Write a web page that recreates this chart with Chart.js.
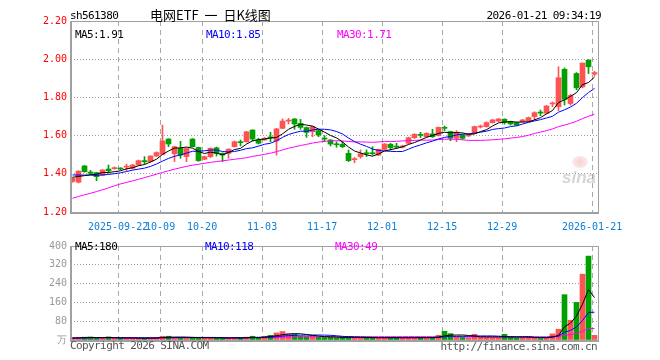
<!DOCTYPE html>
<html>
<head>
<meta charset="utf-8">
<script src="https://cdn.jsdelivr.net/npm/chart.js@4.4.1/dist/chart.umd.min.js"></script>
<style>
  body { margin: 0; background: #fff; }
  #wrap { position: relative; width: 660px; height: 360px; overflow: hidden; background: #fff;
          font-family: "DejaVu Sans Mono", monospace; }
  canvas { position: absolute; left: 0; }
  .t { position: absolute; white-space: nowrap; font-size: 11px; letter-spacing: -0.6px; line-height: 13px; color: #000; }
</style>
</head>
<body>
<div id="wrap">
  <canvas id="kChart" width="660" height="236" style="top:0"></canvas>
  <canvas id="volChart" width="660" height="124" style="top:236px"></canvas>

  <div class="t" style="left:70px;top:9px">sh561380</div>
  <div class="t" style="left:150px;top:7px;font-family:'Noto Sans CJK SC';font-size:13px;letter-spacing:0;word-spacing:3px;line-height:16px">电网ETF 一 日K线图</div>
  <div class="t" style="right:59px;top:9px">2026-01-21 09:34:19</div>

  <div class="t" style="left:75px;top:28px;color:#000">MA5:1.91</div>
  <div class="t" style="left:206px;top:28px;color:#0000ff">MA10:1.85</div>
  <div class="t" style="left:337px;top:28px;color:#ff00ff">MA30:1.71</div>

  <div class="t" style="left:75px;top:240px;color:#000">MA5:180</div>
  <div class="t" style="left:205px;top:240px;color:#0000ff">MA10:118</div>
  <div class="t" style="left:335px;top:240px;color:#ff00ff">MA30:49</div>

  <div class="t" style="left:70px;top:339px;color:#555">Copyright 2026 SINA.COM</div>
  <div class="t" style="right:63px;top:340px;color:#555">http://finance.sina.com.cn</div>

  <div style="position:absolute;left:572px;top:156px;width:16px;height:12px;border-radius:50%;background:radial-gradient(circle,rgba(235,120,120,0.35),rgba(235,160,160,0.1))"></div>
  <div style="position:absolute;left:562px;top:168px;font:italic bold 17px 'Liberation Sans';color:rgba(150,150,150,0.4)">sina</div>
</div>

<script>
// trading days shown
const dates = ['2025-09-10','2025-09-11','2025-09-12','2025-09-15','2025-09-16','2025-09-17','2025-09-18','2025-09-19',
  '2025-09-22','2025-09-23','2025-09-24','2025-09-25','2025-09-26','2025-09-29','2025-09-30',
  '2025-10-09','2025-10-10','2025-10-13','2025-10-14','2025-10-15','2025-10-16','2025-10-17',
  '2025-10-20','2025-10-21','2025-10-22','2025-10-23','2025-10-24','2025-10-27','2025-10-28','2025-10-29','2025-10-30','2025-10-31',
  '2025-11-03','2025-11-04','2025-11-05','2025-11-06','2025-11-07','2025-11-10','2025-11-11','2025-11-12','2025-11-13','2025-11-14',
  '2025-11-17','2025-11-18','2025-11-19','2025-11-20','2025-11-21','2025-11-24','2025-11-25','2025-11-26','2025-11-27','2025-11-28',
  '2025-12-01','2025-12-02','2025-12-03','2025-12-04','2025-12-05','2025-12-08','2025-12-09','2025-12-10','2025-12-11','2025-12-12',
  '2025-12-15','2025-12-16','2025-12-17','2025-12-18','2025-12-19','2025-12-22','2025-12-23','2025-12-24','2025-12-25','2025-12-26',
  '2025-12-29','2025-12-30','2025-12-31','2026-01-05','2026-01-06','2026-01-07','2026-01-08','2026-01-09',
  '2026-01-12','2026-01-13','2026-01-14','2026-01-15','2026-01-16','2026-01-19','2026-01-20','2026-01-21'];

const tickDates  = ['2025-09-22','2025-10-09','2025-10-20','2025-11-03','2025-11-17','2025-12-01','2025-12-15','2025-12-29','2026-01-21'];
const tickLabels = ['2025-09-22','10-09','10-20','11-03','11-17','12-01','12-15','12-29','2026-01-21'];

const opens = [1.360,1.356,1.441,1.409,1.406,1.392,1.425,1.427,1.428,1.435,1.429,1.446,1.469,1.464,1.493,
  1.502,1.582,1.505,1.533,1.490,1.582,1.538,1.476,1.490,1.536,1.507,1.507,1.542,1.567,1.568,1.629,1.577,
  1.577,1.592,1.572,1.638,1.676,1.687,1.664,1.642,1.620,1.626,1.586,1.577,1.556,1.554,1.507,1.474,1.490,1.509,1.509,1.498,
  1.528,1.554,1.544,1.539,1.560,1.589,1.605,1.594,1.609,1.600,1.642,1.621,1.586,1.603,1.598,1.615,1.645,1.647,1.668,1.676,
  1.686,1.673,1.668,1.673,1.676,1.699,1.722,1.717,1.766,1.751,1.947,1.768,1.925,1.855,1.995,1.922];
const highs = [1.380,1.416,1.444,1.418,1.408,1.422,1.446,1.436,1.432,1.451,1.450,1.472,1.490,1.495,1.515,
  1.655,1.584,1.545,1.570,1.536,1.585,1.540,1.492,1.536,1.540,1.510,1.531,1.572,1.577,1.622,1.631,1.586,
  1.590,1.617,1.638,1.687,1.690,1.690,1.685,1.645,1.650,1.628,1.600,1.580,1.568,1.568,1.525,1.486,1.525,1.525,1.542,1.530,
  1.558,1.560,1.560,1.550,1.592,1.610,1.617,1.615,1.633,1.645,1.650,1.623,1.626,1.606,1.610,1.650,1.655,1.672,1.685,1.690,
  1.688,1.676,1.670,1.685,1.697,1.725,1.734,1.758,1.776,1.960,1.954,1.816,1.930,1.980,1.998,1.937];
const lows = [1.355,1.352,1.408,1.397,1.364,1.390,1.403,1.424,1.420,1.416,1.425,1.444,1.451,1.460,1.490,
  1.500,1.542,1.464,1.481,1.464,1.540,1.465,1.474,1.485,1.493,1.464,1.481,1.540,1.546,1.565,1.572,1.556,
  1.575,1.568,1.498,1.635,1.661,1.633,1.633,1.591,1.594,1.594,1.568,1.546,1.539,1.537,1.464,1.458,1.481,1.490,1.498,1.495,
  1.525,1.525,1.533,1.535,1.556,1.585,1.589,1.590,1.590,1.598,1.626,1.573,1.568,1.580,1.595,1.612,1.640,1.644,1.665,1.673,
  1.660,1.655,1.652,1.670,1.673,1.682,1.704,1.714,1.751,1.731,1.760,1.759,1.840,1.850,1.925,1.912];
const closes = [1.376,1.414,1.411,1.403,1.385,1.420,1.416,1.431,1.425,1.439,1.446,1.469,1.463,1.493,1.511,
  1.572,1.556,1.542,1.498,1.533,1.542,1.469,1.490,1.533,1.507,1.498,1.529,1.568,1.563,1.620,1.582,1.560,
  1.586,1.588,1.635,1.676,1.680,1.661,1.643,1.617,1.647,1.603,1.582,1.556,1.552,1.542,1.469,1.478,1.504,1.505,1.505,1.528,
  1.556,1.537,1.540,1.546,1.589,1.607,1.601,1.612,1.594,1.643,1.638,1.586,1.618,1.586,1.605,1.647,1.649,1.668,1.682,1.687,
  1.669,1.661,1.655,1.682,1.694,1.720,1.718,1.755,1.770,1.903,1.790,1.810,1.850,1.980,1.960,1.930];
// closes of the 9 sessions before the window, for MA5 / MA10
const prevCloses = [1.420,1.412,1.405,1.400,1.393,1.395,1.388,1.380,1.371];

// MA30
const ma30 = [1.272,1.281,1.290,1.298,1.307,1.316,1.326,1.337,1.347,1.355,1.363,1.371,1.380,1.389,1.398,
  1.407,1.416,1.424,1.432,1.439,1.445,1.450,1.455,1.460,1.464,1.468,1.472,1.476,1.480,
  1.484,1.491,1.496,1.502,1.508,1.516,1.525,1.534,1.541,1.548,1.554,1.561,1.566,1.570,1.572,1.573,1.572,1.569,1.567,1.567,
  1.566,1.565,1.567,1.569,1.569,1.570,1.572,1.574,1.575,1.577,1.576,1.577,1.579,1.581,1.581,1.581,1.578,1.575,1.575,1.575,
  1.576,1.578,1.580,1.583,1.587,1.590,1.595,1.602,1.611,1.618,1.626,1.635,1.647,1.655,1.664,1.675,1.689,1.701,1.712];

// volume, 万手
const volumes = [9,10,12,13,9,8,13,7,8,7,8,9,8,9,10,
  16,16,11,10,9,10,11,8,9,8,8,9,10,9,12,16,10,
  16,20,30,36,26,24,16,15,18,12,11,12,10,11,14,10,10,9,9,10,
  10,11,9,9,11,11,10,10,10,20,37,27,12,11,10,24,11,11,10,10,
  24,12,9,10,12,11,6,10,26,46,193,84,160,280,357,20];
const prevVolumes = [8,9,10,9,8,7,9,10,8,9,8,7,8,9,10,9,8,8,9,7,8,9,8,10,9,8,7,8,9];

const UP = '#ff5252';
const DOWN = '#00a000';
const tickIdx = tickDates.map(d => dates.indexOf(d));

function movingAvg(vals, prev, n) {
  const all = prev.concat(vals);
  return vals.map((v, i) => {
    const end = prev.length + i + 1;
    const win = all.slice(Math.max(0, end - n), end);
    return win.reduce((a, b) => a + b, 0) / win.length;
  });
}

const candleColors = closes.map((c, i) => (c >= opens[i] ? UP : DOWN));
const ma5 = movingAvg(closes, prevCloses, 5);
const ma10 = movingAvg(closes, prevCloses, 10);
const vma5 = movingAvg(volumes, prevVolumes, 5);
const vma10 = movingAvg(volumes, prevVolumes, 10);
const vma30 = movingAvg(volumes, prevVolumes, 30);

const monoFont = { family: 'DejaVu Sans Mono', size: 10 };

// grey box round each panel
const framePlugin = {
  id: 'frame',
  afterDraw(chart) {
    const { ctx, chartArea: a } = chart;
    ctx.save();
    ctx.strokeStyle = '#a0a0a0';
    ctx.lineWidth = 1;
    ctx.strokeRect(a.left + 0.5, a.top + 0.5, a.right - a.left - 1, a.bottom - a.top);
    ctx.lineWidth = 2;
    ctx.beginPath();
    ctx.moveTo(a.left, a.top);
    ctx.lineTo(a.left, a.bottom + 1);
    ctx.lineTo(a.right, a.bottom + 1);
    ctx.stroke();
    ctx.restore();
  }
};

function xScale(showLabels) {
  return {
    type: 'linear',
    min: -0.25,
    max: 87.75,
    offset: false,
    afterFit: s => { s.height = showLabels ? 24 : 0; },
    afterBuildTicks: s => { s.ticks = tickIdx.map(i => ({ value: i - 0.4 })); },
    ticks: {
      display: showLabels,
      autoSkip: false,
      maxRotation: 0,
      padding: 9,
      color: '#0a7fd8',
      font: monoFont,
      callback: (v, idx) => tickLabels[idx]
    },
    grid: { color: '#a8a8a8', drawTicks: false, offset: false },
    border: { display: false, dash: [5, 4] }
  };
}

const line = (data, color) => ({
  type: 'line',
  data: data.map((v, i) => ({ x: i, y: v })),
  borderColor: color,
  borderWidth: 1,
  pointRadius: 0,
  tension: 0,
  order: 0
});

new Chart(document.getElementById('kChart'), {
  type: 'bar',
  data: {
    datasets: [
      line(ma5, '#000000'),
      line(ma10, '#0000ff'),
      line(ma30, '#ff00ff'),
      {
        label: 'body',
        data: opens.map((o, i) => ({ x: i, y: [o, closes[i]] })),
        backgroundColor: candleColors,
        barThickness: 5,
        minBarLength: 1,
        grouped: false,
        order: 1
      },
      {
        label: 'wick',
        data: lows.map((l, i) => ({ x: i, y: [l, highs[i]] })),
        backgroundColor: candleColors,
        barThickness: 1,
        grouped: false,
        order: 2
      }
    ]
  },
  options: {
    responsive: false,
    animation: false,
    layout: { padding: { left: 0, right: 61, top: 21, bottom: 0 } },
    plugins: { legend: { display: false }, tooltip: { enabled: false } },
    scales: {
      x: xScale(true),
      y: {
        min: 1.2,
        max: 2.2,
        afterFit: s => { s.width = 71; },
        ticks: { stepSize: 0.2, padding: 4, color: '#ff0000', font: monoFont, callback: v => v.toFixed(2) },
        grid: { color: '#a0a0a0', drawTicks: false },
        border: { display: false, dash: [1, 2] }
      }
    }
  },
  plugins: [framePlugin]
});

new Chart(document.getElementById('volChart'), {
  type: 'bar',
  data: {
    datasets: [
      line(vma5, '#000000'),
      line(vma10, '#0000ff'),
      line(vma30, '#ff00ff'),
      {
        label: 'volume',
        data: volumes.map((v, i) => ({ x: i, y: v })),
        backgroundColor: candleColors,
        barThickness: 5,
        grouped: false,
        order: 1
      }
    ]
  },
  options: {
    responsive: false,
    animation: false,
    layout: { padding: { left: 0, right: 61, top: 4, bottom: 20 } },
    plugins: { legend: { display: false }, tooltip: { enabled: false } },
    scales: {
      x: xScale(false),
      y: {
        min: 0,
        max: 400,
        afterFit: s => { s.width = 71; },
        ticks: { stepSize: 80, padding: 4, color: '#999999', font: monoFont, callback: v => (v === 0 ? '万' : v) },
        grid: { color: '#a0a0a0', drawTicks: false },
        border: { display: false, dash: [1, 2] }
      }
    }
  },
  plugins: [framePlugin]
});
</script>
</body>
</html>
